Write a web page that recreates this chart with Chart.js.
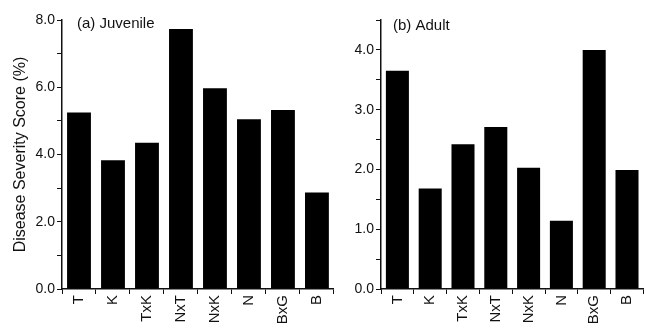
<!DOCTYPE html>
<html>
<head>
<meta charset="utf-8">
<script src="https://cdn.jsdelivr.net/npm/chart.js@4/dist/chart.umd.min.js"></script>
<style>
  body { margin: 0; background: #fff; }
  #wrap { position: relative; width: 646px; height: 329px; overflow: hidden; }
  .panel { position: absolute; top: 0; height: 329px; }
</style>
</head>
<body>
<div id="wrap">
  <div class="panel" style="left:0;width:336px"><canvas id="juv"></canvas></div>
  <div class="panel" style="left:330px;width:316px"><canvas id="adult"></canvas></div>
</div>
<script>
const crosses = ['T', 'K', 'TxK', 'NxT', 'NxK', 'N', 'BxG', 'B'];
const juvenileScores = [5.25, 3.83, 4.35, 7.73, 5.97, 5.05, 5.32, 2.87];
const adultScores = [3.65, 1.68, 2.42, 2.71, 2.03, 1.14, 4.0, 1.99];
const juvenileTicks = [0, 2, 4, 6, 8];
const adultTicks = [0, 1, 2, 3, 4];

const ink = '#111';
const family = 'Liberation Sans, Arial, sans-serif';

// panel caption drawn in the chart area
const captionPlugin = {
  id: 'caption',
  afterDraw(chart, args, opts) {
    const ctx = chart.ctx;
    ctx.save();
    ctx.fillStyle = ink;
    ctx.font = '15px ' + family;
    ctx.textBaseline = 'middle';
    ctx.fillText(opts.text, chart.chartArea.left + opts.dx, opts.y);
    ctx.restore();
  }
};

function makePanel(id, values, labelTicks, max, step, axisWidth, title, caption, capDx, capY, padRight) {
  new Chart(document.getElementById(id), {
    type: 'bar',
    data: {
      labels: crosses,
      datasets: [{
        data: values,
        backgroundColor: '#000',
        borderWidth: 0,
        barPercentage: 0.9,
        categoryPercentage: 0.78
      }]
    },
    options: {
      responsive: false,
      animation: false,
      layout: { padding: { top: 20, right: padRight, left: 0, bottom: 0 } },
      plugins: {
        legend: { display: false },
        tooltip: { enabled: false },
        caption: { text: caption, dx: capDx, y: capY }
      },
      scales: {
        x: {
          grid: { display: true, drawOnChartArea: false, drawTicks: true, tickLength: 5, color: ink },
          border: { color: ink, width: 1.5 },
          ticks: { color: ink, font: { family: family, size: 15 }, minRotation: 90, maxRotation: 90, padding: 1, autoSkip: false },
          afterFit(scale) { scale.height = 40; }
        },
        y: {
          min: 0,
          max: max,
          grid: { drawOnChartArea: false, drawTicks: true, tickLength: 5, color: ink },
          border: { color: ink, width: 1.5 },
          ticks: {
            stepSize: step,
            color: ink,
            font: { family: family, size: 14 },
            padding: 2,
            autoSkip: false,
            callback: v => labelTicks.includes(v) ? v.toFixed(1) : ''
          },
          title: title ? { display: true, text: title, color: ink, font: { family: family, size: 16 }, padding: { top: 11, bottom: 0 } } : { display: false },
          afterFit(scale) { scale.width = axisWidth; }
        }
      }
    },
    plugins: [captionPlugin]
  });
}

document.getElementById('juv').width = 336;
document.getElementById('juv').height = 329;
document.getElementById('adult').width = 316;
document.getElementById('adult').height = 329;

makePanel('juv', juvenileScores, juvenileTicks, 8, 1, 62, 'Disease Severity Score (%)', '(a) Juvenile', 15, 24, 1);
makePanel('adult', adultScores, adultTicks, 4.5, 0.5, 51, '', '(b) Adult', 12, 26, 0);
</script>
</body>
</html>
